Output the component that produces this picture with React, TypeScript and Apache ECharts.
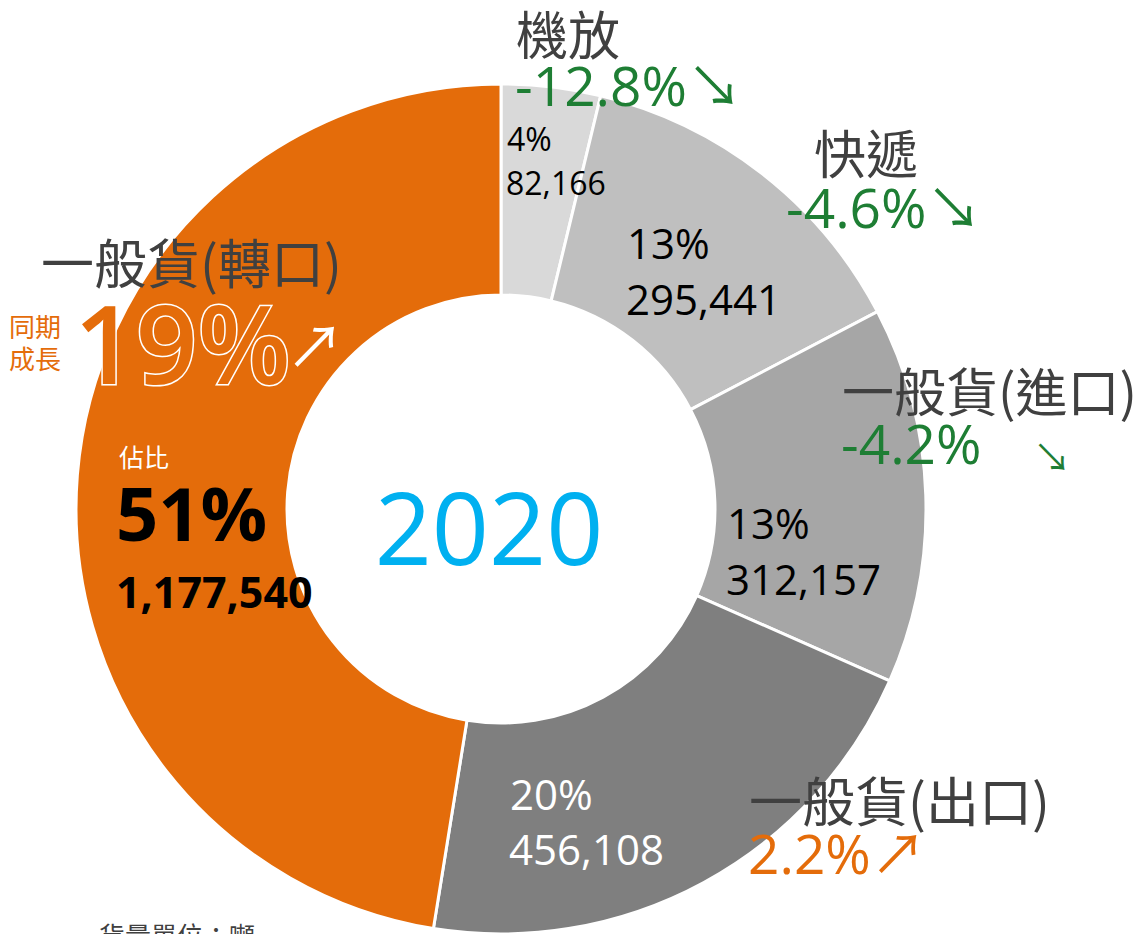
import React, { useEffect, useRef } from "react";
import * as echarts from "echarts";

const categories = ["機放", "快遞", "一般貨(進口)", "一般貨(出口)", "一般貨(轉口)"];
// labelled volumes (tonnes)
const volumes = [82166, 295441, 312157, 456108, 1177540];
// slice sizes as drawn in the reference ring (the 轉口 slice spans ~171°)
const ringValues = [82166, 295441, 312157, 456108, 1035000];
const shares = ["4%", "13%", "13%", "20%", "51%"];
const growth = [-12.8, -4.6, -4.2, 2.2, 19];
const year = "2020";
const unitNote = "貨量單位：噸";

const sliceColors = ["#d9d9d9", "#bfbfbf", "#a6a6a6", "#7f7f7f", "#e46c0a"];
const GREEN = "#1e7e34";
const ORANGE = "#e46c0a";
const DARK = "#404040";
const NUM = "'Open Sans', 'Noto Sans CJK TC', sans-serif";
const CJK = "'Noto Sans CJK TC', sans-serif";

const fmt = (v: number) => v.toLocaleString("en-US");
const growthTxt = (g: number) => (g > 0 ? "" : "-") + Math.abs(g).toFixed(1) + "%";

function t(x: number, y: number, text: string, size: number, fill: string, opts: any = {}) {
  return {
    type: "text",
    x,
    y,
    z: 100,
    silent: true,
    style: {
      text,
      fill,
      font: `${opts.weight || "normal"} ${size}px ${opts.family || NUM}`,
      textAlign: opts.align || "left",
      textVerticalAlign: "middle",
      stroke: opts.stroke,
      lineWidth: opts.lineWidth || 0,
    },
  };
}

export default function App() {
  const ref = useRef<HTMLDivElement>(null);
  useEffect(() => {
    const chart = echarts.init(ref.current!, null, { renderer: "svg" });
    const graphics: any[] = [
      t(489, 526, year, 100, "#00b0f0", { align: "center" }),
      // 機放
      t(507, 138, shares[0], 32, "#000"),
      t(506, 182, fmt(volumes[0]), 32, "#000"),
      t(516, 32, categories[0], 52, DARK, { family: CJK }),
      t(515, 84, growthTxt(growth[0]) + "↘", 55, GREEN),
      // 快遞
      t(627, 242, shares[1], 42, "#000"),
      t(626, 298, fmt(volumes[1]), 42, "#000"),
      t(814, 151, categories[1], 52, DARK, { family: CJK }),
      t(786, 206, growthTxt(growth[1]) + "↘", 55, GREEN),
      // 進口
      t(727, 522, shares[2], 42, "#000"),
      t(726, 578, fmt(volumes[2]), 42, "#000"),
      t(842, 389, categories[2], 52, DARK, { family: CJK }),
      t(841, 442, growthTxt(growth[2]), 55, GREEN),
      t(1033, 456, "↘", 38, GREEN),
      // 出口
      t(510, 793, shares[3], 42, "#fff"),
      t(509, 848, fmt(volumes[3]), 42, "#fff"),
      t(749, 799, categories[3], 53, DARK, { family: CJK }),
      t(748, 852, growthTxt(growth[3]) + "↗", 55, ORANGE),
      // 轉口
      t(119, 456, "佔比", 25, "#fff", { family: CJK }),
      t(116, 512, shares[4], 74, "#000", { weight: "bold" }),
      t(116, 591, fmt(volumes[4]), 43, "#000", { weight: "bold" }),
      t(41, 261, categories[4], 53, DARK, { family: CJK }),
      t(9, 325, "同期", 26, ORANGE, { family: CJK }),
      t(9, 357, "成長", 26, ORANGE, { family: CJK }),
      t(74, 342, growth[4] + "%", 108, ORANGE, { weight: 600, stroke: "#fff", lineWidth: 3 }),
      t(286, 345, "↗", 58, "#fff"),
      t(99, 934, unitNote, 26, DARK, { family: CJK }),
    ];
    chart.setOption({
      animation: false,
      backgroundColor: "#fff",
      series: [
        {
          type: "pie",
          center: [501, 509],
          radius: [214, 425],
          startAngle: 90,
          clockwise: true,
          silent: true,
          z: 1,
          label: { show: false },
          labelLine: { show: false },
          itemStyle: { borderColor: "#fff", borderWidth: 3 },
          data: categories.map((c, i) => ({
            name: c,
            value: ringValues[i],
            itemStyle: { color: sliceColors[i] },
          })),
        },
      ],
      graphic: { elements: graphics },
    });
    return () => chart.dispose();
  }, []);
  return (
    <div
      ref={ref}
      style={{ position: "absolute", left: 0, top: 0, width: 1141, height: 934 }}
    />
  );
}
